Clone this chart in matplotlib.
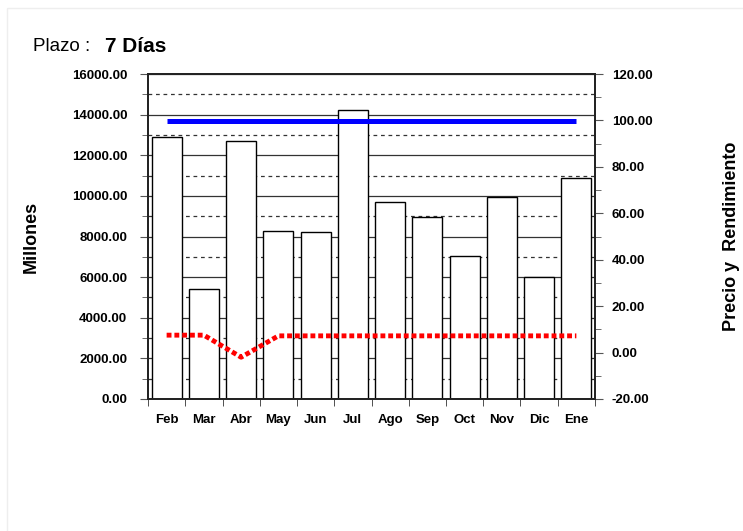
import matplotlib.pyplot as plt
from matplotlib.patches import Rectangle
from matplotlib.ticker import MultipleLocator, FormatStrFormatter

plt.rcParams['font.family'] = ['Liberation Sans', 'DejaVu Sans']

meses = ['Feb', 'Mar', 'Abr', 'May', 'Jun', 'Jul', 'Ago', 'Sep', 'Oct', 'Nov', 'Dic', 'Ene']
millones = [12900, 5420, 12710, 8280, 8230, 14240, 9700, 8970, 7040, 9950, 6010, 10890]
precio = [99.7, 99.7, 99.7, 99.7, 99.7, 99.7, 99.7, 99.7, 99.7, 99.7, 99.7, 99.7]
rendimiento = [7.5, 7.5, -2.0, 7.2, 7.2, 7.2, 7.2, 7.2, 7.2, 7.2, 7.2, 7.2]

fig = plt.figure(figsize=(7.43, 5.31), dpi=100)
fig.patches.append(Rectangle((0.009, -0.01), 1.0, 0.995, transform=fig.transFigure,
                             fill=False, edgecolor='#eeeeee', linewidth=1))
ax = fig.add_axes([0.1992, 0.2486, 0.6016, 0.612])
x = range(len(meses))

ax.set_axisbelow(True)
ax.yaxis.set_major_locator(MultipleLocator(2000))
ax.yaxis.set_minor_locator(MultipleLocator(1000))
ax.grid(which='major', axis='y', color='#333333', linewidth=0.9)
ax.grid(which='minor', axis='y', color='#333333', linewidth=0.9, linestyle=(0, (3, 3)))
ax.bar(x, millones, width=0.8, color='white', edgecolor='black', linewidth=1.0, zorder=2)
ax.set_ylim(0, 16000)
ax.set_xlim(-0.5, len(meses) - 0.5)
ax.yaxis.set_major_formatter(FormatStrFormatter('%.2f'))
ax.set_xticks(list(x))
ax.set_xticklabels(meses, fontsize=9.5, fontweight='bold')
ax.set_xticks([i + 0.5 for i in range(-1, len(meses))], minor=True)
ax.tick_params(axis='x', which='major', length=0, pad=11)
ax.tick_params(axis='x', which='minor', length=5, direction='out', color='#333333')
ax.tick_params(axis='y', which='major', length=6, labelsize=9.5, pad=9, color='#555555')
ax.tick_params(axis='y', which='minor', length=4, color='#555555')
for lbl in ax.get_yticklabels():
    lbl.set_fontweight('bold')
ax.set_ylabel('Millones', fontsize=13, fontweight='bold', labelpad=23)
for s in ax.spines.values():
    s.set_color('#222222')
    s.set_linewidth(1.3)

ax2 = ax.twinx()
ax2.plot(x, precio, color='#0000ff', linewidth=3.6, solid_capstyle='butt')
ax2.plot(x, rendimiento, color='#ff0000', linewidth=3.5, linestyle=(0, (1, 0.6)), dash_capstyle='butt')
ax2.set_ylim(-20, 120)
ax2.yaxis.set_major_locator(MultipleLocator(20))
ax2.yaxis.set_minor_locator(MultipleLocator(10))
ax2.yaxis.set_major_formatter(FormatStrFormatter('%.2f'))
ax2.tick_params(axis='y', which='major', length=6, labelsize=9.5, pad=6, color='#555555')
ax2.tick_params(axis='y', which='minor', length=4, color='#555555')
for lbl in ax2.get_yticklabels():
    lbl.set_fontweight('bold')
ax2.set_ylabel('Precio y  Rendimiento', fontsize=13, fontweight='bold', labelpad=51)
for s in ax2.spines.values():
    s.set_color('#222222')
    s.set_linewidth(1.3)

fig.text(0.044, 0.913, 'Plazo :', fontsize=13.5, va='center')
fig.text(0.141, 0.913, '7 Días', fontsize=15, fontweight='bold', va='center')

fig.savefig('out.png', dpi=100)
